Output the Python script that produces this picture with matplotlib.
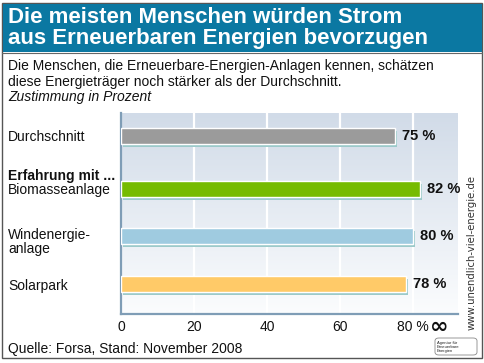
import numpy as np
import matplotlib
matplotlib.use("Agg")
import matplotlib.pyplot as plt
from matplotlib import patheffects as pe
from matplotlib.patches import Rectangle, FancyBboxPatch

plt.rcParams['font.family'] = ['Liberation Sans', 'DejaVu Sans']

# ---- data ----
categories = ["Durchschnitt", "Biomasseanlage", "Windenergie-\nanlage", "Solarpark"]
values = [75, 82, 80, 78]
value_labels = ["75 %", "82 %", "80 %", "78 %"]
bar_colors = ["#9b9b9b", "#76bb00", "#9fcbe0", "#ffca68"]
tick_values = [0, 20, 40, 60, 80]
tick_labels = ["0", "20", "40", "60", "80 %"]
ypos = [0.0, 1.09, 2.06, 3.05]

title = "Die meisten Menschen würden Strom\naus Erneuerbaren Energien bevorzugen"
subtitle = ("Die Menschen, die Erneuerbare-Energien-Anlagen kennen, schätzen\n"
            "diese Energieträger noch stärker als der Durchschnitt.")
unit_note = "Zustimmung in Prozent"
group_label = "Erfahrung mit ..."
source = "Quelle: Forsa, Stand: November 2008"
url = "www.unendlich-viel-energie.de"

W, H = 484, 363
fig = plt.figure(figsize=(W / 100, H / 100), dpi=100)
fig.patch.set_facecolor("white")

def fx(x):
    return x / W

def fy(y):
    return 1 - y / H

# outer border and title band
fig.patches.append(Rectangle((fx(2), fy(358)), fx(480), 355 / H, transform=fig.transFigure,
                             facecolor="none", edgecolor="#555555", linewidth=1.0))
fig.patches.append(Rectangle((fx(2.5), fy(52)), fx(479), 48.5 / H, transform=fig.transFigure,
                             facecolor="#0b78a2", edgecolor="none"))
fig.add_artist(plt.Line2D([fx(2), fx(482)], [fy(52.5), fy(52.5)], transform=fig.transFigure,
                          color="#666666", linewidth=0.8))

fig.text(fx(8), fy(28), title, color="white", fontsize=16, fontweight="bold",
         va="center", ha="left", linespacing=1.05)
fig.text(fx(8), fy(74), subtitle, color="#111111", fontsize=10, va="center", ha="left",
         linespacing=1.1)
fig.text(fx(8), fy(97), unit_note, color="#111111", fontsize=10, style="italic",
         va="center", ha="left")

# axes
ax = fig.add_axes([fx(121), fy(314), (458 - 121) / W, (314 - 113) / H])
xmax = 92.3
ax.set_xlim(0, xmax)
ax.set_ylim(3.67, -0.474)

grad = np.linspace(0, 1, 256)[:, None]
c_top = np.array([0.82, 0.86, 0.91])
c_bot = np.array([0.985, 0.99, 0.995])
img = c_top[None, None, :] * (1 - grad[..., None]) + c_bot[None, None, :] * grad[..., None]
ax.imshow(img, extent=[0, xmax, 3.67, -0.474], aspect="auto", zorder=0)

for t in tick_values[1:]:
    ax.axvline(t, color="white", linewidth=1.6, zorder=1)

bars = ax.barh(ypos, values, height=0.33, color=bar_colors, edgecolor="white",
               linewidth=1.0, zorder=3)
for b in bars:
    b.set_path_effects([pe.SimplePatchShadow(offset=(1.5, -2.2), shadow_rgbFace="#9ccaca",
                                             alpha=1.0), pe.Normal()])

for y, v, lab in zip(ypos, values, value_labels):
    ax.annotate(lab, xy=(v, y), xytext=(5, 0), textcoords="offset points",
                va="center", ha="left", fontsize=10.5, fontweight="bold", color="#111111")

ax.set_yticks([])
ax.set_xticks(tick_values)
ax.set_xticklabels(tick_labels, fontsize=10, color="#111111")
ax.tick_params(axis="x", length=0, pad=4)
for s in ["top", "right"]:
    ax.spines[s].set_visible(False)
for s in ["left", "bottom"]:
    ax.spines[s].set_color("#7f9db6")
    ax.spines[s].set_linewidth(1.6)

# category labels
label_y = [137, 190, 242, 286]
for lab, y in zip(categories, label_y):
    fig.text(fx(8), fy(y), lab, fontsize=10, va="center", ha="left", color="#111111",
             linespacing=0.95)
fig.text(fx(8), fy(176), group_label, fontsize=10, fontweight="bold", va="center",
         ha="left", color="#111111")

fig.text(fx(8), fy(349), source, fontsize=10, va="center", ha="left", color="#111111")

fig.text(fx(472), fy(252), url, fontsize=7.3, rotation=90, va="center", ha="center",
         color="#333333", family="DejaVu Sans")

# logo
fig.text(fx(439), fy(327), "∞", fontsize=16, fontweight="bold", va="center", ha="center",
         color="#111111", family="DejaVu Sans")
fig.patches.append(FancyBboxPatch((fx(435), fy(355)), 42 / W, 17 / H,
                                  boxstyle="round,pad=0,rounding_size=0.008",
                                  transform=fig.transFigure, facecolor="white",
                                  edgecolor="#888888", linewidth=0.6))
fig.text(fx(437), fy(347), "Agentur für\nErneuerbare\nEnergien", fontsize=3, va="center",
         ha="left", color="#222222", linespacing=1.05)

fig.savefig("out.png", dpi=100)
